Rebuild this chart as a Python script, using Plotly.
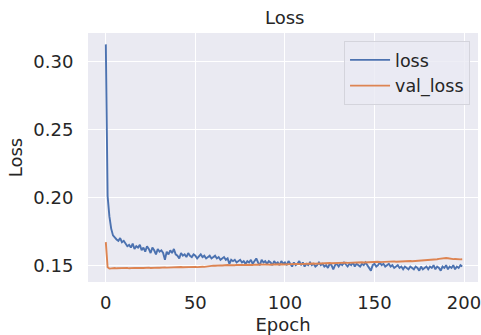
import plotly.graph_objects as go

# Training history: per-epoch loss values
epochs = list(range(200))

loss = [
    0.313, 0.201, 0.186, 0.177, 0.172, 0.170, 0.169, 0.168, 0.170, 0.167,
    0.168, 0.166, 0.164, 0.165, 0.163, 0.166, 0.162, 0.164, 0.163, 0.165,
    0.161, 0.163, 0.160, 0.164, 0.162, 0.159, 0.163, 0.161, 0.158, 0.162,
    0.160, 0.161, 0.159, 0.154, 0.160, 0.158, 0.161, 0.159, 0.162, 0.158,
    0.157, 0.155, 0.159, 0.157, 0.158, 0.156, 0.159, 0.157, 0.156, 0.158,
    0.157, 0.155, 0.157, 0.158, 0.156, 0.157, 0.155, 0.156, 0.157, 0.155,
    0.156, 0.157, 0.155, 0.156, 0.154, 0.155, 0.156, 0.154, 0.155, 0.151,
    0.154, 0.153, 0.154, 0.152, 0.153, 0.154, 0.152, 0.153, 0.151, 0.153,
    0.152, 0.154, 0.151, 0.153, 0.155, 0.152, 0.150, 0.154, 0.152, 0.153,
    0.151, 0.153, 0.152, 0.150, 0.153, 0.151, 0.152, 0.150, 0.153, 0.151,
    0.152, 0.150, 0.153, 0.151, 0.149, 0.152, 0.150, 0.151, 0.153, 0.150,
    0.152, 0.149, 0.151, 0.150, 0.152, 0.150, 0.151, 0.149, 0.150, 0.152,
    0.150, 0.151, 0.149, 0.150, 0.148, 0.151, 0.150, 0.147, 0.150, 0.151,
    0.149, 0.151, 0.150, 0.152, 0.150, 0.149, 0.151, 0.150, 0.152, 0.149,
    0.151, 0.150, 0.149, 0.151, 0.150, 0.152, 0.150, 0.149, 0.146, 0.150,
    0.151, 0.149, 0.150, 0.152, 0.150, 0.151, 0.149, 0.150, 0.151, 0.149,
    0.150, 0.148, 0.149, 0.150, 0.148, 0.149, 0.147, 0.149, 0.148, 0.147,
    0.149, 0.148, 0.147, 0.149, 0.148, 0.146, 0.149, 0.147, 0.148, 0.149,
    0.147, 0.149, 0.148, 0.150, 0.147, 0.149, 0.148, 0.146, 0.149, 0.148,
    0.150, 0.147, 0.149, 0.148, 0.150, 0.147, 0.149, 0.148, 0.150, 0.149,
]

val_loss = [
    0.1670, 0.1485, 0.1475, 0.1478, 0.1476, 0.1479, 0.1477, 0.1478, 0.1476, 0.1479,
    0.1477, 0.1478, 0.1480, 0.1477, 0.1479, 0.1478, 0.1480, 0.1479, 0.1481, 0.1478,
    0.1480, 0.1479, 0.1481, 0.1480, 0.1482, 0.1479, 0.1481, 0.1482, 0.1480, 0.1482,
    0.1481, 0.1483, 0.1482, 0.1484, 0.1482, 0.1483, 0.1485, 0.1483, 0.1484, 0.1486,
    0.1484, 0.1485, 0.1487, 0.1485, 0.1486, 0.1488, 0.1486, 0.1487, 0.1489, 0.1487,
    0.1488, 0.1486, 0.1488, 0.1487, 0.1489, 0.1488, 0.1490, 0.1493, 0.1496, 0.1495,
    0.1497, 0.1496, 0.1498, 0.1497, 0.1499, 0.1498, 0.1500, 0.1499, 0.1501, 0.1500,
    0.1499, 0.1501, 0.1500, 0.1502, 0.1501, 0.1500, 0.1502, 0.1501, 0.1503, 0.1502,
    0.1501, 0.1503, 0.1502, 0.1504, 0.1502, 0.1503, 0.1505, 0.1503, 0.1504, 0.1506,
    0.1504, 0.1505, 0.1503, 0.1505, 0.1506, 0.1504, 0.1506, 0.1505, 0.1507, 0.1505,
    0.1506, 0.1508, 0.1506, 0.1507, 0.1509, 0.1507, 0.1508, 0.1510, 0.1508, 0.1509,
    0.1511, 0.1509, 0.1510, 0.1512, 0.1510, 0.1511, 0.1513, 0.1511, 0.1512, 0.1514,
    0.1512, 0.1513, 0.1515, 0.1513, 0.1514, 0.1516, 0.1514, 0.1515, 0.1517, 0.1515,
    0.1516, 0.1518, 0.1516, 0.1517, 0.1519, 0.1517, 0.1518, 0.1520, 0.1518, 0.1519,
    0.1521, 0.1519, 0.1520, 0.1522, 0.1520, 0.1521, 0.1523, 0.1521, 0.1522, 0.1524,
    0.1522, 0.1523, 0.1525, 0.1523, 0.1524, 0.1526, 0.1524, 0.1525, 0.1527, 0.1525,
    0.1526, 0.1528, 0.1526, 0.1527, 0.1529, 0.1527, 0.1528, 0.1530, 0.1528, 0.1529,
    0.1531, 0.1529, 0.1530, 0.1532, 0.1530, 0.1531, 0.1533, 0.1531, 0.1532, 0.1534,
    0.1535, 0.1537, 0.1536, 0.1539, 0.1542, 0.1544, 0.1547, 0.1549, 0.1552, 0.1555,
    0.1553, 0.1551, 0.1548, 0.1547, 0.1545, 0.1546, 0.1544, 0.1545, 0.1543, 0.1544,
]

x_ticks = [0, 50, 100, 150, 200]
y_ticks = [0.15, 0.20, 0.25, 0.30]

BLUE = "#4c72b0"
ORANGE = "#dd8452"
TEXT = "#262626"
FONT = "DejaVu Sans"

fig = go.Figure()
fig.add_trace(go.Scatter(x=epochs, y=loss, mode="lines", name="loss",
                         line=dict(color=BLUE, width=1.9)))
fig.add_trace(go.Scatter(x=epochs, y=val_loss, mode="lines", name="val_loss",
                         line=dict(color=ORANGE, width=1.9)))

fig.update_layout(
    width=481, height=335,
    margin=dict(l=88, r=0, t=33, b=53),
    paper_bgcolor="white",
    plot_bgcolor="#eaeaf2",
    font=dict(family=FONT, size=18, color=TEXT),
    title=dict(text="Loss", x=0.592, xanchor="center", y=1 - 18 / 335,
               yanchor="middle", yref="container",
               font=dict(family=FONT, size=18, color=TEXT)),
    legend=dict(x=0.9796, xanchor="right", y=0.968, yanchor="top",
                bgcolor="rgba(234,234,242,0.8)", bordercolor="#d4d4dc",
                borderwidth=1, font=dict(family=FONT, size=17.5, color=TEXT),
                itemwidth=40),
    showlegend=True,
)

fig.update_xaxes(
    range=[-9.95, 207.8], tickvals=x_ticks,
    showgrid=True, gridcolor="white", gridwidth=1.4, zeroline=False,
    showline=False, ticks="outside", ticklen=4, tickcolor="rgba(0,0,0,0)",
    ticklabeloverflow="allow",
    tickfont=dict(family=FONT, size=18, color=TEXT),
    title=dict(text="Epoch", standoff=6, font=dict(family=FONT, size=18, color=TEXT)),
)
fig.update_yaxes(
    range=[0.1376, 0.3214], tickvals=y_ticks, tickformat=".2f",
    showgrid=True, gridcolor="white", gridwidth=1.4, zeroline=False,
    showline=False, ticks="outside", ticklen=10, tickcolor="rgba(0,0,0,0)",
    tickfont=dict(family=FONT, size=18, color=TEXT),
    title=dict(text="Loss", standoff=6, font=dict(family=FONT, size=18, color=TEXT)),
)

fig.write_html("out.html")
